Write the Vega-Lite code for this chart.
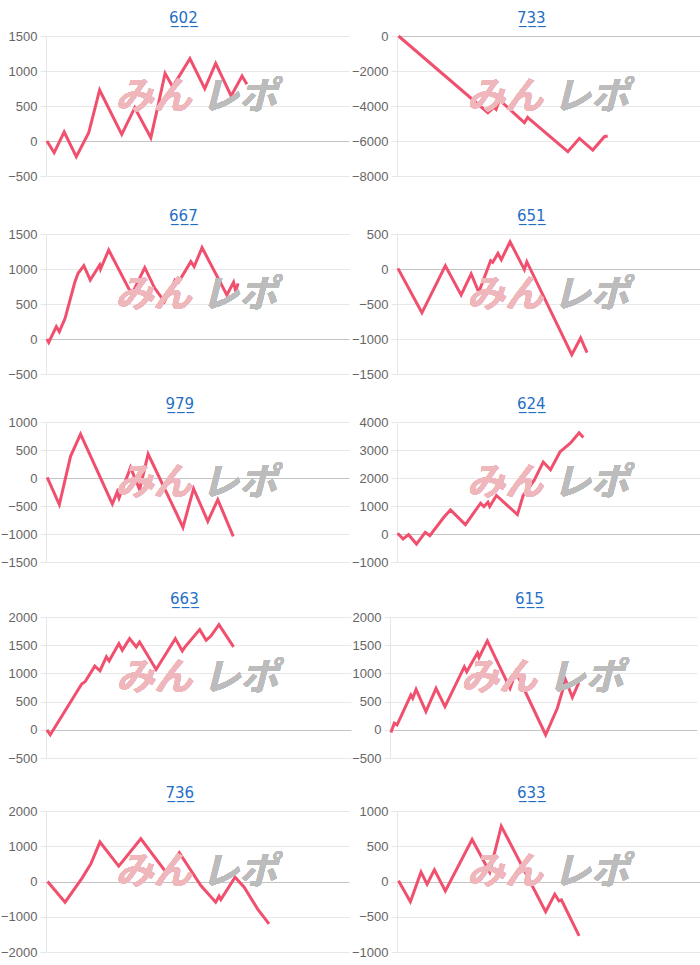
{
  "$schema": "https://vega.github.io/schema/vega-lite/v6.json",
  "padding": {"left": 0, "top": 11, "right": 0, "bottom": 0},
  "columns": 2,
  "align": "none",
  "spacing": {"row": 4, "column": 0},
  "config": {
    "view": {"stroke": null},
    "font": "Liberation Sans",
    "title": {"fontSize": 15, "fontWeight": "normal", "color": "#1f6fc5", "offset": 4, "anchor": "middle", "frame": "bounds", "dx": 5, "font": "DejaVu Sans"},
    "axis": {"labelFont": "Liberation Sans", "labelFontSize": 13, "labelColor": "#666666", "tickColor": "#e6e6e6", "domainColor": "#e6e6e6", "tickSize": 6, "labelPadding": 3, "title": null, "labelOverlap": false, "format": "d", "gridColor": "#e8e8e8"},
    "axisY": {"tickCount": 12}
  },
  "datasets": {
    "s602": [
      {"g": 3, "v": 0}, {"g": 27, "v": -167}, {"g": 60, "v": 129}, {"g": 100, "v": -224}, {"g": 141, "v": 119},
      {"g": 177, "v": 729}, {"g": 250, "v": 95}, {"g": 293, "v": 476}, {"g": 346, "v": 48}, {"g": 367, "v": 452},
      {"g": 393, "v": 967}, {"g": 418, "v": 776}, {"g": 475, "v": 1176}, {"g": 524, "v": 748}, {"g": 560, "v": 1110},
      {"g": 611, "v": 643}, {"g": 647, "v": 929}, {"g": 663, "v": 810}
    ],
    "s733": [
      {"g": 5, "v": 0}, {"g": 299, "v": -4381}, {"g": 319, "v": -4077}, {"g": 326, "v": -4190}, {"g": 337, "v": -3657},
      {"g": 419, "v": -4952}, {"g": 430, "v": -4648}, {"g": 439, "v": -4800}, {"g": 562, "v": -6610}, {"g": 600, "v": -5848},
      {"g": 644, "v": -6515}, {"g": 682, "v": -5752}, {"g": 693, "v": -5714}
    ],
    "s667": [
      {"g": 3, "v": 0}, {"g": 9, "v": -48}, {"g": 34, "v": 176}, {"g": 44, "v": 105}, {"g": 63, "v": 295},
      {"g": 95, "v": 810}, {"g": 106, "v": 938}, {"g": 125, "v": 1048}, {"g": 146, "v": 843}, {"g": 177, "v": 1057},
      {"g": 180, "v": 1000}, {"g": 207, "v": 1271}, {"g": 283, "v": 638}, {"g": 326, "v": 1019}, {"g": 359, "v": 724},
      {"g": 391, "v": 533}, {"g": 426, "v": 843}, {"g": 437, "v": 810}, {"g": 478, "v": 1105}, {"g": 489, "v": 1033},
      {"g": 515, "v": 1305}, {"g": 597, "v": 629}, {"g": 619, "v": 810}, {"g": 626, "v": 686}, {"g": 634, "v": 795}
    ],
    "s651": [
      {"g": 3, "v": 9}, {"g": 82, "v": -626}, {"g": 159, "v": 47}, {"g": 211, "v": -370}, {"g": 244, "v": -71},
      {"g": 269, "v": -332}, {"g": 308, "v": 118}, {"g": 315, "v": 95}, {"g": 332, "v": 223}, {"g": 343, "v": 133},
      {"g": 372, "v": 389}, {"g": 419, "v": -9}, {"g": 427, "v": 104}, {"g": 575, "v": -1223}, {"g": 604, "v": -986},
      {"g": 625, "v": -1194}
    ],
    "s979": [
      {"g": 4, "v": 12}, {"g": 44, "v": -476}, {"g": 81, "v": 387}, {"g": 114, "v": 785}, {"g": 219, "v": -464},
      {"g": 235, "v": -250}, {"g": 241, "v": -357}, {"g": 279, "v": 190}, {"g": 309, "v": -208}, {"g": 337, "v": 428},
      {"g": 430, "v": -625}, {"g": 452, "v": -881}, {"g": 487, "v": -190}, {"g": 534, "v": -774}, {"g": 567, "v": -387},
      {"g": 618, "v": -1041}
    ],
    "s624": [
      {"g": 2, "v": 24}, {"g": 20, "v": -179}, {"g": 38, "v": -24}, {"g": 64, "v": -359}, {"g": 93, "v": 60},
      {"g": 108, "v": -60}, {"g": 154, "v": 598}, {"g": 176, "v": 861}, {"g": 225, "v": 335}, {"g": 275, "v": 1100},
      {"g": 286, "v": 981}, {"g": 299, "v": 1136}, {"g": 305, "v": 981}, {"g": 327, "v": 1375}, {"g": 396, "v": 694},
      {"g": 415, "v": 1375}, {"g": 451, "v": 1914}, {"g": 481, "v": 2571}, {"g": 505, "v": 2296}, {"g": 536, "v": 2930},
      {"g": 571, "v": 3253}, {"g": 599, "v": 3612}, {"g": 613, "v": 3444}
    ],
    "s663": [
      {"g": 3, "v": 0}, {"g": 14, "v": -88}, {"g": 117, "v": 811}, {"g": 128, "v": 853}, {"g": 160, "v": 1129},
      {"g": 177, "v": 1047}, {"g": 198, "v": 1294}, {"g": 207, "v": 1223}, {"g": 239, "v": 1529}, {"g": 250, "v": 1411},
      {"g": 274, "v": 1617}, {"g": 296, "v": 1470}, {"g": 307, "v": 1558}, {"g": 361, "v": 1070}, {"g": 424, "v": 1617},
      {"g": 447, "v": 1399}, {"g": 456, "v": 1470}, {"g": 504, "v": 1776}, {"g": 525, "v": 1588}, {"g": 540, "v": 1658},
      {"g": 567, "v": 1864}, {"g": 588, "v": 1693}, {"g": 615, "v": 1470}
    ],
    "s615": [
      {"g": 3, "v": -47}, {"g": 14, "v": 118}, {"g": 23, "v": 88}, {"g": 68, "v": 617}, {"g": 74, "v": 559},
      {"g": 85, "v": 717}, {"g": 117, "v": 323}, {"g": 150, "v": 735}, {"g": 179, "v": 412}, {"g": 242, "v": 1117},
      {"g": 250, "v": 1029}, {"g": 285, "v": 1364}, {"g": 290, "v": 1282}, {"g": 317, "v": 1576}, {"g": 391, "v": 735},
      {"g": 410, "v": 1029}, {"g": 507, "v": -88}, {"g": 545, "v": 382}, {"g": 572, "v": 882}, {"g": 594, "v": 576},
      {"g": 615, "v": 835}
    ],
    "s736": [
      {"g": 5, "v": 0}, {"g": 63, "v": -588}, {"g": 119, "v": 95}, {"g": 148, "v": 502}, {"g": 178, "v": 1119},
      {"g": 240, "v": 436}, {"g": 313, "v": 1213}, {"g": 396, "v": 265}, {"g": 440, "v": 815}, {"g": 511, "v": -114},
      {"g": 560, "v": -588}, {"g": 571, "v": -417}, {"g": 577, "v": -512}, {"g": 624, "v": 123}, {"g": 654, "v": -161},
      {"g": 698, "v": -777}, {"g": 736, "v": -1204}
    ],
    "s633": [
      {"g": 5, "v": 10}, {"g": 44, "v": -286}, {"g": 79, "v": 133}, {"g": 99, "v": -38}, {"g": 123, "v": 167},
      {"g": 159, "v": -133}, {"g": 247, "v": 595}, {"g": 305, "v": 133}, {"g": 343, "v": 786}, {"g": 489, "v": -429},
      {"g": 519, "v": -181}, {"g": 533, "v": -276}, {"g": 541, "v": -262}, {"g": 599, "v": -771}
    ]
  },
  "concat": [
      {"title": "6̲0̲2̲", "width": 303, "height": 140, "data": {"name": "s602"},
       "layer": [
        {"mark": {"type": "line", "color": "#f0506e", "strokeWidth": 3, "zindex": 2},
         "encoding": {
          "x": {"field": "g", "type": "quantitative", "scale": {"domain": [0, 1000], "nice": false}, "axis": {"labels": false, "ticks": false, "grid": false, "domain": false, "minExtent": 29, "maxExtent": 29}},
          "y": {"field": "v", "type": "quantitative", "scale": {"domain": [-500, 1500], "nice": false, "zero": false}, "axis": {"values": [-500, 0, 500, 1000, 1500], "tickCount": 12, "gridColor": {"condition": {"test": "datum.value === 0", "value": "#c4c4c4"}, "value": "#e8e8e8"}}}}},
        {"mark": {"type": "text", "font": "Noto Sans CJK JP", "fontSize": 38, "fontWeight": "bold", "fontStyle": "italic", "color": "#efb7bc", "baseline": "middle", "align": "center"},
         "encoding": {"x": {"datum": 355}, "y": {"datum": 614}, "text": {"value": "みん"}}},
        {"mark": {"type": "text", "font": "Noto Sans CJK JP", "fontSize": 38, "fontWeight": "bold", "fontStyle": "italic", "color": "#bcbcbc", "baseline": "middle", "align": "center"},
         "encoding": {"x": {"datum": 638}, "y": {"datum": 614}, "text": {"value": "レポ"}}}
       ]},
      {"title": "7̲3̲3̲", "width": 304, "height": 140, "data": {"name": "s733"},
       "layer": [
        {"mark": {"type": "line", "color": "#f0506e", "strokeWidth": 3, "zindex": 2},
         "encoding": {
          "x": {"field": "g", "type": "quantitative", "scale": {"domain": [0, 1000], "nice": false}, "axis": {"labels": false, "ticks": false, "grid": false, "domain": false, "minExtent": 29, "maxExtent": 29}},
          "y": {"field": "v", "type": "quantitative", "scale": {"domain": [-8000, 0], "nice": false, "zero": false}, "axis": {"values": [-8000, -6000, -4000, -2000, 0], "tickCount": 12, "gridColor": {"condition": {"test": "datum.value === 0", "value": "#c4c4c4"}, "value": "#e8e8e8"}}}}},
        {"mark": {"type": "text", "font": "Noto Sans CJK JP", "fontSize": 38, "fontWeight": "bold", "fontStyle": "italic", "color": "#efb7bc", "baseline": "middle", "align": "center"},
         "encoding": {"x": {"datum": 355}, "y": {"datum": -3544}, "text": {"value": "みん"}}},
        {"mark": {"type": "text", "font": "Noto Sans CJK JP", "fontSize": 38, "fontWeight": "bold", "fontStyle": "italic", "color": "#bcbcbc", "baseline": "middle", "align": "center"},
         "encoding": {"x": {"datum": 638}, "y": {"datum": -3544}, "text": {"value": "レポ"}}}
       ]},
      {"title": "6̲6̲7̲", "width": 303, "height": 140, "data": {"name": "s667"},
       "layer": [
        {"mark": {"type": "line", "color": "#f0506e", "strokeWidth": 3, "zindex": 2},
         "encoding": {
          "x": {"field": "g", "type": "quantitative", "scale": {"domain": [0, 1000], "nice": false}, "axis": {"labels": false, "ticks": false, "grid": false, "domain": false, "minExtent": 19, "maxExtent": 19}},
          "y": {"field": "v", "type": "quantitative", "scale": {"domain": [-500, 1500], "nice": false, "zero": false}, "axis": {"values": [-500, 0, 500, 1000, 1500], "tickCount": 12, "gridColor": {"condition": {"test": "datum.value === 0", "value": "#c4c4c4"}, "value": "#e8e8e8"}}}}},
        {"mark": {"type": "text", "font": "Noto Sans CJK JP", "fontSize": 38, "fontWeight": "bold", "fontStyle": "italic", "color": "#efb7bc", "baseline": "middle", "align": "center"},
         "encoding": {"x": {"datum": 355}, "y": {"datum": 614}, "text": {"value": "みん"}}},
        {"mark": {"type": "text", "font": "Noto Sans CJK JP", "fontSize": 38, "fontWeight": "bold", "fontStyle": "italic", "color": "#bcbcbc", "baseline": "middle", "align": "center"},
         "encoding": {"x": {"datum": 638}, "y": {"datum": 614}, "text": {"value": "レポ"}}}
       ]},
      {"title": "6̲5̲1̲", "width": 304, "height": 140, "data": {"name": "s651"},
       "layer": [
        {"mark": {"type": "line", "color": "#f0506e", "strokeWidth": 3, "zindex": 2},
         "encoding": {
          "x": {"field": "g", "type": "quantitative", "scale": {"domain": [0, 1000], "nice": false}, "axis": {"labels": false, "ticks": false, "grid": false, "domain": false, "minExtent": 19, "maxExtent": 19}},
          "y": {"field": "v", "type": "quantitative", "scale": {"domain": [-1500, 500], "nice": false, "zero": false}, "axis": {"values": [-1500, -1000, -500, 0, 500], "tickCount": 12, "gridColor": {"condition": {"test": "datum.value === 0", "value": "#c4c4c4"}, "value": "#e8e8e8"}}}}},
        {"mark": {"type": "text", "font": "Noto Sans CJK JP", "fontSize": 38, "fontWeight": "bold", "fontStyle": "italic", "color": "#efb7bc", "baseline": "middle", "align": "center"},
         "encoding": {"x": {"datum": 355}, "y": {"datum": -386}, "text": {"value": "みん"}}},
        {"mark": {"type": "text", "font": "Noto Sans CJK JP", "fontSize": 38, "fontWeight": "bold", "fontStyle": "italic", "color": "#bcbcbc", "baseline": "middle", "align": "center"},
         "encoding": {"x": {"datum": 638}, "y": {"datum": -386}, "text": {"value": "レポ"}}}
       ]},
      {"title": "9̲7̲9̲", "width": 303, "height": 140, "data": {"name": "s979"},
       "layer": [
        {"mark": {"type": "line", "color": "#f0506e", "strokeWidth": 3, "zindex": 2},
         "encoding": {
          "x": {"field": "g", "type": "quantitative", "scale": {"domain": [0, 1000], "nice": false}, "axis": {"labels": false, "ticks": false, "grid": false, "domain": false, "minExtent": 26, "maxExtent": 26}},
          "y": {"field": "v", "type": "quantitative", "scale": {"domain": [-1500, 1000], "nice": false, "zero": false}, "axis": {"values": [-1500, -1000, -500, 0, 500, 1000], "tickCount": 12, "gridColor": {"condition": {"test": "datum.value === 0", "value": "#c4c4c4"}, "value": "#e8e8e8"}}}}},
        {"mark": {"type": "text", "font": "Noto Sans CJK JP", "fontSize": 38, "fontWeight": "bold", "fontStyle": "italic", "color": "#efb7bc", "baseline": "middle", "align": "center"},
         "encoding": {"x": {"datum": 355}, "y": {"datum": -107}, "text": {"value": "みん"}}},
        {"mark": {"type": "text", "font": "Noto Sans CJK JP", "fontSize": 38, "fontWeight": "bold", "fontStyle": "italic", "color": "#bcbcbc", "baseline": "middle", "align": "center"},
         "encoding": {"x": {"datum": 638}, "y": {"datum": -107}, "text": {"value": "レポ"}}}
       ]},
      {"title": "6̲2̲4̲", "width": 304, "height": 140, "data": {"name": "s624"},
       "layer": [
        {"mark": {"type": "line", "color": "#f0506e", "strokeWidth": 3, "zindex": 2},
         "encoding": {
          "x": {"field": "g", "type": "quantitative", "scale": {"domain": [0, 1000], "nice": false}, "axis": {"labels": false, "ticks": false, "grid": false, "domain": false, "minExtent": 26, "maxExtent": 26}},
          "y": {"field": "v", "type": "quantitative", "scale": {"domain": [-1000, 4000], "nice": false, "zero": false}, "axis": {"values": [-1000, 0, 1000, 2000, 3000, 4000], "tickCount": 12, "gridColor": {"condition": {"test": "datum.value === 0", "value": "#c4c4c4"}, "value": "#e8e8e8"}}}}},
        {"mark": {"type": "text", "font": "Noto Sans CJK JP", "fontSize": 38, "fontWeight": "bold", "fontStyle": "italic", "color": "#efb7bc", "baseline": "middle", "align": "center"},
         "encoding": {"x": {"datum": 355}, "y": {"datum": 1785}, "text": {"value": "みん"}}},
        {"mark": {"type": "text", "font": "Noto Sans CJK JP", "fontSize": 38, "fontWeight": "bold", "fontStyle": "italic", "color": "#bcbcbc", "baseline": "middle", "align": "center"},
         "encoding": {"x": {"datum": 638}, "y": {"datum": 1785}, "text": {"value": "レポ"}}}
       ]},
      {"title": "6̲6̲3̲", "width": 305, "height": 141, "data": {"name": "s663"},
       "layer": [
        {"mark": {"type": "line", "color": "#f0506e", "strokeWidth": 3, "zindex": 2},
         "encoding": {
          "x": {"field": "g", "type": "quantitative", "scale": {"domain": [0, 1000], "nice": false}, "axis": {"labels": false, "ticks": false, "grid": false, "domain": false, "minExtent": 24, "maxExtent": 24}},
          "y": {"field": "v", "type": "quantitative", "scale": {"domain": [-500, 2000], "nice": false, "zero": false}, "axis": {"values": [-500, 0, 500, 1000, 1500, 2000], "tickCount": 12, "gridColor": {"condition": {"test": "datum.value === 0", "value": "#c4c4c4"}, "value": "#e8e8e8"}}}}},
        {"mark": {"type": "text", "font": "Noto Sans CJK JP", "fontSize": 38, "fontWeight": "bold", "fontStyle": "italic", "color": "#efb7bc", "baseline": "middle", "align": "center"},
         "encoding": {"x": {"datum": 355}, "y": {"datum": 893}, "text": {"value": "みん"}}},
        {"mark": {"type": "text", "font": "Noto Sans CJK JP", "fontSize": 38, "fontWeight": "bold", "fontStyle": "italic", "color": "#bcbcbc", "baseline": "middle", "align": "center"},
         "encoding": {"x": {"datum": 638}, "y": {"datum": 893}, "text": {"value": "レポ"}}}
       ]},
      {"title": "6̲1̲5̲", "width": 307, "height": 141, "data": {"name": "s615"},
       "layer": [
        {"mark": {"type": "line", "color": "#f0506e", "strokeWidth": 3, "zindex": 2},
         "encoding": {
          "x": {"field": "g", "type": "quantitative", "scale": {"domain": [0, 1000], "nice": false}, "axis": {"labels": false, "ticks": false, "grid": false, "domain": false, "minExtent": 24, "maxExtent": 24}},
          "y": {"field": "v", "type": "quantitative", "scale": {"domain": [-500, 2000], "nice": false, "zero": false}, "axis": {"values": [-500, 0, 500, 1000, 1500, 2000], "tickCount": 12, "gridColor": {"condition": {"test": "datum.value === 0", "value": "#c4c4c4"}, "value": "#e8e8e8"}}}}},
        {"mark": {"type": "text", "font": "Noto Sans CJK JP", "fontSize": 38, "fontWeight": "bold", "fontStyle": "italic", "color": "#efb7bc", "baseline": "middle", "align": "center"},
         "encoding": {"x": {"datum": 355}, "y": {"datum": 893}, "text": {"value": "みん"}}},
        {"mark": {"type": "text", "font": "Noto Sans CJK JP", "fontSize": 38, "fontWeight": "bold", "fontStyle": "italic", "color": "#bcbcbc", "baseline": "middle", "align": "center"},
         "encoding": {"x": {"datum": 638}, "y": {"datum": 893}, "text": {"value": "レポ"}}}
       ]},
      {"title": "7̲3̲6̲", "width": 303, "height": 141, "data": {"name": "s736"},
       "layer": [
        {"mark": {"type": "line", "color": "#f0506e", "strokeWidth": 3, "zindex": 2},
         "encoding": {
          "x": {"field": "g", "type": "quantitative", "scale": {"domain": [0, 1000], "nice": false}, "axis": {"labels": false, "ticks": false, "grid": false, "domain": false}},
          "y": {"field": "v", "type": "quantitative", "scale": {"domain": [-2000, 2000], "nice": false, "zero": false}, "axis": {"values": [-2000, -1000, 0, 1000, 2000], "tickCount": 12, "gridColor": {"condition": {"test": "datum.value === 0", "value": "#c4c4c4"}, "value": "#e8e8e8"}}}}},
        {"mark": {"type": "text", "font": "Noto Sans CJK JP", "fontSize": 38, "fontWeight": "bold", "fontStyle": "italic", "color": "#efb7bc", "baseline": "middle", "align": "center"},
         "encoding": {"x": {"datum": 355}, "y": {"datum": 228}, "text": {"value": "みん"}}},
        {"mark": {"type": "text", "font": "Noto Sans CJK JP", "fontSize": 38, "fontWeight": "bold", "fontStyle": "italic", "color": "#bcbcbc", "baseline": "middle", "align": "center"},
         "encoding": {"x": {"datum": 638}, "y": {"datum": 228}, "text": {"value": "レポ"}}}
       ]},
      {"title": "6̲3̲3̲", "width": 304, "height": 141, "data": {"name": "s633"},
       "layer": [
        {"mark": {"type": "line", "color": "#f0506e", "strokeWidth": 3, "zindex": 2},
         "encoding": {
          "x": {"field": "g", "type": "quantitative", "scale": {"domain": [0, 1000], "nice": false}, "axis": {"labels": false, "ticks": false, "grid": false, "domain": false}},
          "y": {"field": "v", "type": "quantitative", "scale": {"domain": [-1000, 1000], "nice": false, "zero": false}, "axis": {"values": [-1000, -500, 0, 500, 1000], "tickCount": 12, "gridColor": {"condition": {"test": "datum.value === 0", "value": "#c4c4c4"}, "value": "#e8e8e8"}}}}},
        {"mark": {"type": "text", "font": "Noto Sans CJK JP", "fontSize": 38, "fontWeight": "bold", "fontStyle": "italic", "color": "#efb7bc", "baseline": "middle", "align": "center"},
         "encoding": {"x": {"datum": 355}, "y": {"datum": 114}, "text": {"value": "みん"}}},
        {"mark": {"type": "text", "font": "Noto Sans CJK JP", "fontSize": 38, "fontWeight": "bold", "fontStyle": "italic", "color": "#bcbcbc", "baseline": "middle", "align": "center"},
         "encoding": {"x": {"datum": 638}, "y": {"datum": 114}, "text": {"value": "レポ"}}}
       ]}
  ]
}
